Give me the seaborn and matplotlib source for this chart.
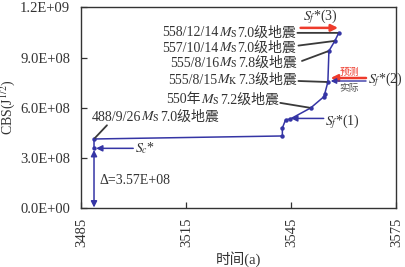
import numpy as np
import pandas as pd
import matplotlib
matplotlib.use("Agg")
import matplotlib.pyplot as plt
import seaborn as sns
from matplotlib.ticker import FuncFormatter
from matplotlib.offsetbox import TextArea, HPacker, AnnotationBbox

# ---- data ----
time = [3488.6, 3488.6, 3542.4, 3542.4, 3543.3, 3544.7, 3550.5, 3554.2, 3554.5, 3555.4, 3555.7, 3557.4, 3558.5]
cbs = [3.57e8, 4.13e8, 4.31e8, 4.79e8, 5.27e8, 5.33e8, 5.99e8, 6.65e8, 6.83e8, 7.54e8, 9.40e8, 10.0e8, 10.48e8]
x_ticks = [3485, 3515, 3545, 3575]
y_ticks = [0, 3e8, 6e8, 9e8, 1.2e9]
sc_value = 3.57e8
delta_label = "Δ=3.57E+08"
# event labels: (pre, math, post), index of point in curve
events = [
    (("558/12/14", r"$M_{\rm S}$", "7.0级地震"), 12),
    (("557/10/14", r"$M_{\rm S}$", "7.0级地震"), 11),
    (("555/8/16", r"$M_{\rm S}$", "7.8级地震"), 10),
    (("555/8/15", r"$M_{\rm K}$", "7.3级地震"), 9),
    (("550年", r"$M_{\rm S}$", "7.2级地震"), 6),
    (("488/9/26", r"$M_{\rm S}$", "7.0级地震"), 1),
]

sns.set_style("ticks")
plt.rcParams["font.family"] = ["Liberation Serif", "Noto Sans CJK SC"]
plt.rcParams["mathtext.fontset"] = "stix"

fig = plt.figure(figsize=(4.05, 2.67), dpi=100)
ax = fig.add_axes([0.201, 0.221, 0.778, 0.751])

CURVE = "#3535a5"
df = pd.DataFrame({"time": time, "cbs": cbs})
sns.lineplot(data=df, x="time", y="cbs", sort=False, estimator=None, ax=ax,
             color=CURVE, lw=1.1, marker="o", markersize=3.2, markeredgewidth=0)

ax.set_xlim(3485, 3575)
ax.set_ylim(0, 1.2e9)
ax.set_xticks(x_ticks)
ax.set_yticks(y_ticks)
ax.yaxis.set_major_formatter(FuncFormatter(lambda v, p: f"{v:.1E}"))
ax.tick_params(direction="in", length=4, width=0.9, labelsize=10.5, colors="#333333")
ax.tick_params(axis="y", pad=8)
ax.tick_params(axis="x", pad=7)
plt.setp(ax.get_xticklabels(), rotation=90)
for s in ax.spines.values():
    s.set_visible(True)
    s.set_color("#333333")
    s.set_linewidth(1.0)
ax.set_xlabel("时间(a)", fontsize=10.5, color="#333333", labelpad=3)
ax.set_ylabel(r"CBS(J$^{1/2}$)", fontsize=10, color="#333333", labelpad=2)

FS = 10
TXT = "#333333"

def packed(parts, fs=FS, color=TXT):
    kids = []
    for p in parts:
        kids.append(TextArea(p, textprops=dict(size=fs, color=color,
                                               family=["Liberation Serif", "Noto Sans CJK SC"])))
    return HPacker(children=kids, pad=0, sep=0, align="baseline")

# label anchors (right end for right-aligned, left end for 488)
label_pos = {
    12: (3546.3, 10.48e8, 1.0),
    11: (3546.3, 9.58e8, 1.0),
    10: (3546.5, 8.68e8, 1.0),
    9: (3546.5, 7.66e8, 1.0),
    6: (3541.3, 6.47e8, 1.0),
    1: (3488.0, 5.45e8, 0.0),
}
leader_start = {
    12: (3546.7, 10.48e8),
    11: (3547.0, 9.72e8),
    10: (3548.0, 8.80e8),
    9: (3547.0, 7.60e8),
    6: (3541.8, 6.29e8),
    1: (3492.3, 4.95e8),
}
for parts, idx in events:
    x0, y0, ha = label_pos[idx]
    ab = AnnotationBbox(packed(parts), (x0, y0), xycoords="data",
                        box_alignment=(ha, 0.5), frameon=False, pad=0)
    ax.add_artist(ab)
    ax.annotate("", xy=(time[idx], cbs[idx]), xytext=leader_start[idx],
                arrowprops=dict(arrowstyle="-", color="#3a3a3a", lw=1.3,
                                shrinkA=0, shrinkB=1))

# Sc* arrow and Delta double arrow
ax.annotate("", xy=(time[0] + 0.6, sc_value), xytext=(3499.8, sc_value),
            arrowprops=dict(arrowstyle="-|>", color=CURVE, lw=1.1,
                            mutation_scale=9, shrinkA=0, shrinkB=0))
ax.text(3500.2, sc_value, r"$S_c$*", fontsize=FS, color=TXT, va="center", ha="left")
ax.annotate("", xy=(time[0], 0.03e8), xytext=(time[0], sc_value - 0.1e8),
            arrowprops=dict(arrowstyle="<|-|>", color=CURVE, lw=1.1,
                            mutation_scale=9, shrinkA=0, shrinkB=0))
ax.text(3490.3, 1.66e8, delta_label, fontsize=FS, color=TXT, va="center", ha="left")

# Sf*(1)
ax.annotate("", xy=(3544.9, 5.36e8), xytext=(3554.2, 5.36e8),
            arrowprops=dict(arrowstyle="-|>", color=CURVE, lw=1.1,
                            mutation_scale=9, shrinkA=0, shrinkB=0))
ax.text(3554.6, 5.17e8, r"$S_f$*(1)", fontsize=FS, color=TXT, va="center", ha="left")

# Sf*(2): predicted (red) and actual (blue)
RED = "#ee3b2c"
ax.annotate("", xy=(3556.2, 7.78e8), xytext=(3566.3, 7.78e8),
            arrowprops=dict(arrowstyle="-|>", color=RED, lw=1.8,
                            mutation_scale=10, shrinkA=0, shrinkB=0))
ax.annotate("", xy=(3556.2, 7.60e8), xytext=(3566.3, 7.60e8),
            arrowprops=dict(arrowstyle="-|>", color=CURVE, lw=1.0,
                            mutation_scale=8, shrinkA=0, shrinkB=0))
ax.text(3566.8, 7.66e8, r"$S_f$*(2)", fontsize=FS, color=TXT, va="center", ha="left")
ax.text(3561.5, 8.15e8, "预测", fontsize=7, color=RED, va="center", ha="center",
        family=["Noto Sans CJK SC"])
ax.text(3561.5, 7.20e8, "实际", fontsize=7, color="#555555", va="center", ha="center",
        family=["Noto Sans CJK SC"])

# Sf*(3)
ax.annotate("", xy=(3558.3, 10.78e8), xytext=(3547.6, 10.78e8),
            arrowprops=dict(arrowstyle="-|>", color=RED, lw=1.8,
                            mutation_scale=10, shrinkA=0, shrinkB=0))
ax.text(3548.2, 11.42e8, r"$S_f$*(3)", fontsize=FS, color=TXT, va="center", ha="left")

fig.savefig("out.png", dpi=100)
